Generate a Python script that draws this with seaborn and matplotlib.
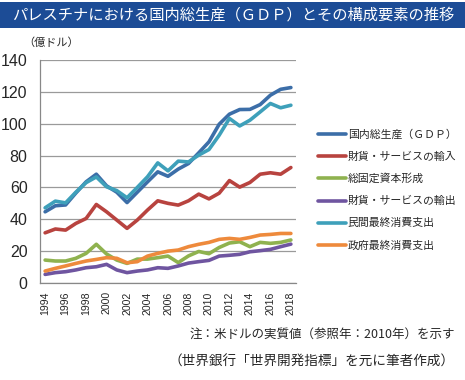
import matplotlib as mpl
mpl.use('agg')
import matplotlib.pyplot as plt
from matplotlib.patches import Rectangle
import pandas as pd
import seaborn as sns

years = list(range(1994, 2019))
gdp = [44.7, 48.5, 49.0, 56.5, 63.5, 68.3, 61.0, 57.0, 50.5, 57.0, 63.5, 69.8, 67.0,
       71.5, 75.0, 81.7, 88.6, 99.7, 106.0, 108.9, 109.0, 112.0, 117.9, 121.6, 122.7]
imports = [31.5, 33.9, 33.2, 37.4, 40.5, 49.3, 44.7, 39.5, 34.3, 39.5, 45.8, 51.6, 50.0,
           48.9, 51.6, 55.8, 52.8, 56.4, 64.3, 60.2, 63.1, 68.3, 69.2, 68.3, 72.5]
capital = [14.4, 13.8, 13.8, 15.5, 18.6, 24.3, 18.2, 14.4, 12.3, 15.0, 15.0, 15.9, 16.9,
           12.8, 17.0, 19.8, 18.4, 22.3, 25.1, 25.9, 22.8, 25.5, 24.9, 25.5, 27.0]
exports = [5.4, 6.5, 7.1, 8.2, 9.6, 10.2, 11.7, 8.2, 6.5, 7.5, 8.2, 9.6, 9.2,
           10.7, 12.5, 13.4, 14.2, 16.9, 17.4, 18.0, 19.6, 20.3, 21.1, 22.8, 24.4]
private = [47.2, 51.4, 50.3, 57.0, 63.0, 66.6, 60.4, 58.0, 53.5, 60.0, 66.7, 75.4, 70.4,
           76.5, 76.0, 80.3, 83.8, 92.8, 103.3, 98.6, 102.2, 107.4, 112.7, 110.0, 111.6]
government = [7.5, 9.2, 10.7, 12.3, 13.8, 14.8, 15.9, 15.5, 12.7, 13.4, 16.9, 18.6, 20.0,
              20.7, 22.8, 24.3, 25.5, 27.4, 28.0, 27.4, 28.6, 30.1, 30.5, 31.1, 31.1]

series_names = ['国内総生産（ＧＤＰ）', '財貨・サービスの輸入', '総固定資本形成',
                '財貨・サービスの輸出', '民間最終消費支出', '政府最終消費支出']
colors = ['#3c6ea8', '#b8433f', '#8fb24f', '#6f55a0', '#3ea0ba', '#ee8a3c']

df = pd.DataFrame({'year': years})
for name, vals in zip(series_names, [gdp, imports, capital, exports, private, government]):
    df[name] = vals
long = df.melt(id_vars='year', var_name='series', value_name='value')

sns.set_theme(style='white')
plt.rcParams['font.family'] = ['Noto Sans CJK JP', 'DejaVu Sans']

fig = plt.figure(figsize=(4.65, 3.8), dpi=100)
ax = fig.add_axes([40 / 465, 1 - 283 / 380, 256 / 465, 223 / 380])

sns.lineplot(data=long, x='year', y='value', hue='series', hue_order=series_names,
             palette=colors, linewidth=2.6, ax=ax, legend=False)

ax.set_xlim(1993.5, 2018.5)
ax.set_ylim(0, 140)
ax.set_yticks(range(0, 141, 20))
ax.set_xticks(range(1994, 2019, 2))
ax.set_xticklabels([str(y) for y in range(1994, 2019, 2)], rotation=90,
                   fontsize=7.6, family='Liberation Sans')
ax.set_xticks([y - 0.5 for y in range(1994, 2020)], minor=True)
ax.tick_params(axis='x', which='major', length=0, pad=6)
ax.tick_params(axis='x', which='minor', length=4, width=0.8, color='#888888', direction='out')
ax.tick_params(axis='y', length=4, width=0.8, color='#888888', direction='out', pad=5)
for lbl in ax.get_yticklabels():
    lbl.set_fontsize(11.5)
    lbl.set_family('Liberation Sans')
ax.set_xlabel('')
ax.set_ylabel('')
ax.yaxis.grid(True, color='#9a9a9a', linewidth=0.9)
ax.xaxis.grid(False)
for side in ['top', 'right']:
    ax.spines[side].set_visible(False)
for side in ['left', 'bottom']:
    ax.spines[side].set_color('#888888')
    ax.spines[side].set_linewidth(0.9)

handles = [plt.Line2D([], [], color=c, linewidth=2.6) for c in colors]
fig.legend(handles, series_names, loc='upper left', bbox_to_anchor=(318 / 465, 1 - 129 / 380),
           frameon=False, fontsize=7.8, handlelength=2.6, handletextpad=0.15,
           labelspacing=1.1, borderpad=0, borderaxespad=0)

# title bar
fig.patches.append(Rectangle((0, 1 - 28 / 380), 1, 26 / 380, transform=fig.transFigure,
                             facecolor='#1c4c96', edgecolor='none'))
fig.text(12 / 465, 1 - 15 / 380, 'パレスチナにおける国内総生産（ＧＤＰ）とその構成要素の推移',
         color='white', fontsize=11, va='center', ha='left')
fig.text(23 / 465, 1 - 43 / 380, '（億ドル）', fontsize=8, va='center', ha='left')

fig.text(455 / 465, 1 - 335 / 380, '注：米ドルの実質値（参照年：2010年）を示す',
         fontsize=9, va='center', ha='right')
fig.text(455 / 465, 1 - 362 / 380, '（世界銀行「世界開発指標」を元に筆者作成）',
         fontsize=9.8, va='center', ha='right')

fig.savefig('out.png', dpi=100)
